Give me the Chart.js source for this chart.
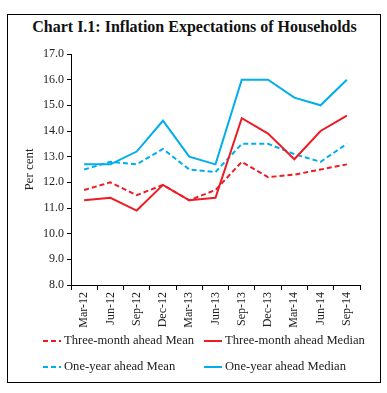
<!DOCTYPE html>
<html>
<head>
<meta charset="utf-8">
<script src="https://cdn.jsdelivr.net/npm/chart.js@4"></script>
<style>
  body { margin: 0; background: #fff; }
  #wrap { position: relative; width: 387px; height: 393px; }
  #box { position: absolute; left: 7px; top: 14px; width: 372px; height: 367px; border: 1.5px solid #000; }
  #title { position: absolute; left: 0; top: 18px; width: 389px; text-align: center;
           font: bold 16px "Liberation Serif", serif; color: #111; }
  #myChart { position: absolute; left: 0; top: 0; }
  .leg { position: absolute; font: 12.6px "Liberation Serif", serif; color: #222; white-space: nowrap; }
  .leg svg { vertical-align: middle; margin-right: 3px; }
</style>
</head>
<body>
<div id="wrap">
  <div id="box"></div>
  <div id="title">Chart I.1: Inflation Expectations of Households</div>
  <canvas id="myChart" width="387" height="393"></canvas>
  <div id="legend"></div>
</div>
<script>
const quarters = ["Mar-12", "Jun-12", "Sep-12", "Dec-12", "Mar-13", "Jun-13", "Sep-13", "Dec-13", "Mar-14", "Jun-14", "Sep-14"];
const threeMonthMean = [11.7, 12.0, 11.5, 11.9, 11.3, 11.7, 12.8, 12.2, 12.3, 12.5, 12.7];
const threeMonthMedian = [11.3, 11.4, 10.9, 11.9, 11.3, 11.4, 14.5, 13.9, 12.9, 14.0, 14.6];
const oneYearMean = [12.5, 12.8, 12.7, 13.3, 12.5, 12.4, 13.5, 13.5, 13.1, 12.8, 13.5];
const oneYearMedian = [12.7, 12.7, 13.2, 14.4, 13.0, 12.7, 16.0, 16.0, 15.3, 15.0, 16.0];

const red = "#ed1c24";
const blue = "#00aeef";
const dash = [5, 3];

const ctx = document.getElementById("myChart");
const config = {
  type: "line",
  data: {
    labels: quarters,
    datasets: [
      { label: "Three-month ahead Mean", data: threeMonthMean, borderColor: red, borderDash: dash },
      { label: "Three-month ahead Median", data: threeMonthMedian, borderColor: red, borderDash: [] },
      { label: "One-year ahead Mean", data: oneYearMean, borderColor: blue, borderDash: dash },
      { label: "One-year ahead Median", data: oneYearMedian, borderColor: blue, borderDash: [] },
    ],
  },
  options: {
    responsive: false,
    animation: false,
    layout: { padding: { left: 22, right: 27, top: 54, bottom: 0 } },
    elements: {
      line: { borderWidth: 2, tension: 0, fill: false },
      point: { radius: 0 },
    },
    plugins: { legend: { display: false }, tooltip: { enabled: false } },
    scales: {
      x: {
        offset: true,
        afterFit: (scale) => { scale.height = 108; },
        grid: { offset: true, drawOnChartArea: false, drawTicks: true, tickLength: 5, color: "#000" },
        border: { display: true, color: "#000", width: 1 },
        ticks: {
          minRotation: 90, maxRotation: 90, padding: 2, color: "#222",
          font: { family: "Liberation Serif", size: 12 },
        },
      },
      y: {
        min: 8, max: 17,
        afterFit: (scale) => { scale.width = 49; },
        grid: { drawOnChartArea: false, drawTicks: true, tickLength: 4, color: "#000" },
        border: { display: true, color: "#000", width: 1 },
        ticks: {
          stepSize: 1, padding: 3, color: "#222",
          font: { family: "Liberation Serif", size: 12 },
          callback: (v) => v.toFixed(1),
        },
        title: {
          display: true, text: "Per cent", color: "#222", padding: 0,
          font: { family: "Liberation Serif", size: 13 },
        },
      },
    },
  },
};
const myChart = new Chart(ctx, config);

// legend laid out as a 2x2 grid like the original
const legendPos = [[43, 342], [204, 342], [43, 368], [204, 368]];
const legendEl = document.getElementById("legend");
config.data.datasets.forEach((ds, i) => {
  const item = document.createElement("div");
  item.className = "leg";
  item.style.left = legendPos[i][0] + "px";
  item.style.top = (legendPos[i][1] - 9) + "px";
  const da = ds.borderDash.length ? ds.borderDash.join(",") : "none";
  item.innerHTML = '<svg width="18" height="6"><line x1="0" y1="3" x2="18" y2="3" stroke="' +
    ds.borderColor + '" stroke-width="2" stroke-dasharray="' + da + '"/></svg>' + ds.label;
  legendEl.appendChild(item);
});
</script>
</body>
</html>
